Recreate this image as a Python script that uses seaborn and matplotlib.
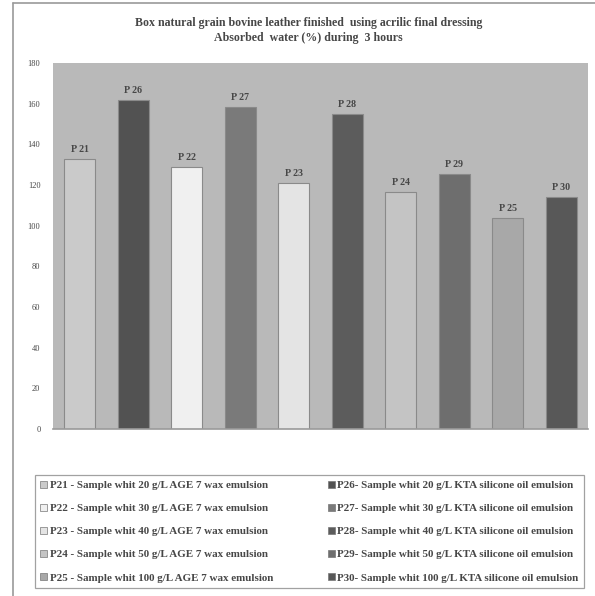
import matplotlib
matplotlib.use("Agg")
import matplotlib.pyplot as plt
from matplotlib.patches import Patch
from matplotlib.lines import Line2D
import seaborn as sns
import pandas as pd

# datos (agua absorbida %, 3 horas)
muestras = ['P21', 'P26', 'P22', 'P27', 'P23', 'P28', 'P24', 'P29', 'P25', 'P30']
etiquetas = ['P 21', 'P 26', 'P 22', 'P 27', 'P 23', 'P 28', 'P 24', 'P 29', 'P 25', 'P 30']
agua = [133, 162, 129, 158.5, 121, 155, 116.5, 125.5, 104, 114]
colores = ['#cacaca', '#525252', '#f0f0f0', '#7a7a7a', '#e4e4e4',
           '#5c5c5c', '#c4c4c4', '#6e6e6e', '#a8a8a8', '#585858']

orden_leyenda = ['P21', 'P22', 'P23', 'P24', 'P25', 'P26', 'P27', 'P28', 'P29', 'P30']
textos_leyenda = [
    'P21 - Sample whit 20 g/L AGE 7 wax emulsion',
    'P22 - Sample whit 30 g/L AGE 7 wax emulsion',
    'P23 - Sample whit 40 g/L AGE 7 wax emulsion',
    'P24 - Sample whit 50 g/L AGE 7 wax emulsion',
    'P25 - Sample whit 100 g/L AGE 7 wax emulsion',
    'P26- Sample whit 20 g/L KTA silicone oil emulsion',
    'P27- Sample whit 30 g/L KTA silicone oil emulsion',
    'P28- Sample whit 40 g/L KTA silicone oil emulsion',
    'P29- Sample whit 50 g/L KTA silicone oil emulsion',
    'P30- Sample whit 100 g/L KTA silicone oil emulsion',
]
titulo = ('Box natural grain bovine leather finished  using acrilic final dressing\n'
          'Absorbed  water (%) during  3 hours')

data = pd.DataFrame({'Muestra': muestras, 'Agua': agua})
paleta = dict(zip(muestras, colores))

sns.set_style('white')
plt.rcParams['font.family'] = ['Liberation Serif', 'DejaVu Serif']
gris_texto = '#474747'

fig = plt.figure(figsize=(5.95, 5.96), dpi=100)
ax = fig.add_axes([0.089, 0.280, 0.899, 0.614])

sns.barplot(data=data, x='Muestra', y='Agua', hue='Muestra', palette=paleta,
            order=muestras, hue_order=muestras, dodge=False, legend=False,
            width=0.58, edgecolor='#8a8a8a', linewidth=0.8, saturation=1, ax=ax)

ax.set_facecolor('#b9b9b9')
ax.set_xlim(-0.5, len(muestras) - 0.5)
ax.set_ylim(0, 180)
ax.set_yticks(range(0, 181, 20))
ax.set_xticks([])
ax.set_xlabel('')
ax.set_ylabel('')
ax.tick_params(axis='y', length=0, pad=9, labelsize=6, labelcolor=gris_texto)
for lado in ax.spines.values():
    lado.set_visible(False)
ax.spines['bottom'].set_visible(True)
ax.spines['bottom'].set_color('#9a9a9a')
ax.spines['bottom'].set_linewidth(1.2)

# etiquetas encima de las barras
for i, (v, et) in enumerate(zip(agua, etiquetas)):
    ax.text(i, v + 2.5, et, ha='center', va='bottom', fontsize=7.2,
            color=gris_texto, fontweight='bold')

fig.suptitle(titulo, x=0.518, y=0.972, fontsize=8.6, fontweight='bold',
             color=gris_texto, linespacing=1.35)

# leyenda
handles = [Patch(facecolor=paleta[m], edgecolor='#777777', linewidth=0.5)
           for m in orden_leyenda]
leg = fig.legend(handles, textos_leyenda, ncol=2, mode='expand',
                 bbox_to_anchor=(0.0588, 0.0134, 0.9227, 0.1862), loc='lower left',
                 fontsize=7.9, frameon=True, fancybox=False, handlelength=0.6,
                 handleheight=0.6, handletextpad=0.25, labelspacing=1.25,
                 borderpad=0.5, borderaxespad=0)
leg.get_frame().set_edgecolor('#8a8a8a')
leg.get_frame().set_linewidth(0.9)
for t in leg.get_texts():
    t.set_color(gris_texto)
    t.set_fontweight('bold')

# marco exterior
fig.add_artist(Line2D([13 / 595, 13 / 595], [0, 1 - 3 / 596], color='#9a9a9a', lw=1.2))
fig.add_artist(Line2D([13 / 595, 1], [1 - 3 / 596, 1 - 3 / 596], color='#9a9a9a', lw=1.2))

fig.savefig('out.png', dpi=100)
